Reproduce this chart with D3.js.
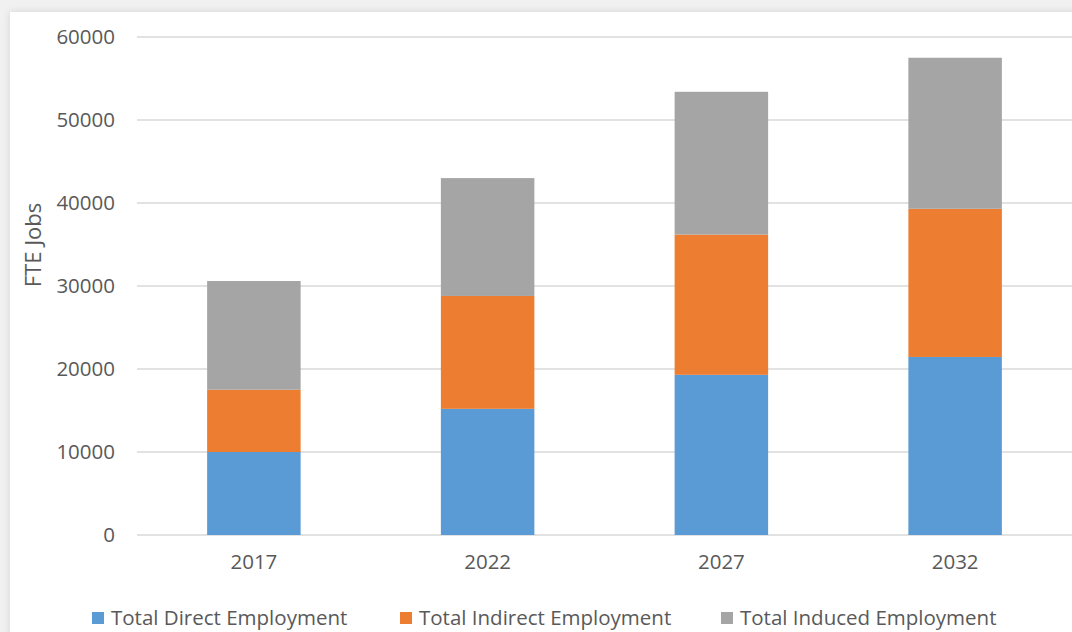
<!DOCTYPE html>
<html>
<head>
<meta charset="utf-8">
<script src="https://cdn.jsdelivr.net/npm/d3@7"></script>
<style>
  html, body { margin: 0; padding: 0; background: #f1f1f1; overflow: hidden; }
  #card {
    position: absolute; left: 10px; top: 12px; width: 1080px; height: 640px;
    background: #fff; box-shadow: 0 0 8px rgba(0,0,0,0.12);
  }
  svg { position: absolute; left: 0; top: 0; }
  text { font-family: "Open Sans", "Noto Sans", sans-serif; fill: #595959; }
</style>
</head>
<body>
<div id="card"></div>
<svg id="chart" width="1072" height="632"></svg>
<script>
var years = ["2017", "2022", "2027", "2032"];
var direct = [10000, 15200, 19300, 21450];
var indirect = [7500, 13600, 16900, 17850];
var induced = [13100, 14200, 17200, 18200];
var seriesNames = ["Total Direct Employment", "Total Indirect Employment", "Total Induced Employment"];
var colors = ["#5B9BD5", "#ED7D31", "#A5A5A5"];
var yTicks = [0, 10000, 20000, 30000, 40000, 50000, 60000];

var data = years.map(function(y, i) {
  return { year: y, direct: direct[i], indirect: indirect[i], induced: induced[i] };
});

var svg = d3.select("#chart");
var margin = {top: 37, right: 0, bottom: 97, left: 137};
var width = +svg.attr("width") - margin.left - margin.right;
var height = +svg.attr("height") - margin.top - margin.bottom;
var g = svg.append("g").attr("transform", "translate(" + margin.left + "," + margin.top + ")");

var x = d3.scaleBand().domain(years).range([0, width]).paddingInner(0.6).paddingOuter(0.3);
var y = d3.scaleLinear().domain([0, 60000]).range([height, 0]);
var z = d3.scaleOrdinal().domain(["direct", "indirect", "induced"]).range(colors);

// gridlines
g.append("g")
  .selectAll("line")
  .data(yTicks)
  .enter().append("line")
    .attr("x1", 0).attr("x2", width)
    .attr("y1", function(d) { return y(d); })
    .attr("y2", function(d) { return y(d); })
    .attr("stroke", "#d9d9d9")
    .attr("stroke-width", 1.5);

var stack = d3.stack().keys(["direct", "indirect", "induced"]);

g.selectAll(".serie")
  .data(stack(data))
  .enter().append("g")
    .attr("class", "serie")
    .attr("fill", function(d) { return z(d.key); })
  .selectAll("rect")
  .data(function(d) { return d; })
  .enter().append("rect")
    .attr("x", function(d) { return x(d.data.year); })
    .attr("y", function(d) { return y(d[1]); })
    .attr("width", x.bandwidth())
    .attr("height", function(d) { return y(d[0]) - y(d[1]); });

// y axis labels
var yAxis = g.append("g")
  .call(d3.axisLeft(y).tickValues(yTicks).tickSize(0).tickPadding(22).tickFormat(d3.format("d")));
yAxis.select(".domain").remove();
yAxis.selectAll("text").style("font-size", "20.5px").attr("fill", "#595959");

// x axis labels
var xAxis = g.append("g")
  .attr("transform", "translate(0," + height + ")")
  .call(d3.axisBottom(x).tickSize(0).tickPadding(19));
xAxis.select(".domain").remove();
xAxis.selectAll("text").style("font-size", "20.5px").attr("fill", "#595959");

// y title
svg.append("text")
  .attr("transform", "translate(41,245) rotate(-90)")
  .attr("text-anchor", "middle")
  .style("font-size", "22px")
  .text("FTE Jobs");

// legend
var legendX = [92, 400, 721];
var legend = svg.append("g").attr("transform", "translate(0,618)");
var item = legend.selectAll("g")
  .data(seriesNames)
  .enter().append("g")
    .attr("transform", function(d, i) { return "translate(" + legendX[i] + ",0)"; });
item.append("rect")
  .attr("x", 0).attr("y", -6)
  .attr("width", 12).attr("height", 12)
  .attr("fill", function(d, i) { return colors[i]; });
item.append("text")
  .attr("x", 19).attr("dy", "0.35em")
  .style("font-size", "20.5px")
  .text(function(d) { return d; });
</script>
</body>
</html>
